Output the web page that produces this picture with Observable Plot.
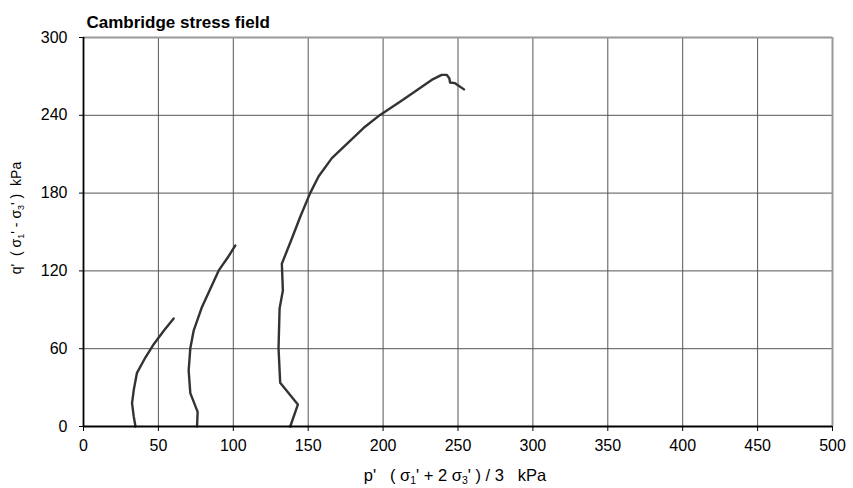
<!DOCTYPE html>
<html><head><meta charset="utf-8">
<script src="https://cdn.jsdelivr.net/npm/d3@7"></script>
<script src="https://cdn.jsdelivr.net/npm/@observablehq/plot@0.6"></script>
<style>
body{margin:0;background:#fff;font-family:"Liberation Sans",Arial,sans-serif;}
</style></head>
<body><div id="chart"></div>
<script>
const title = "Cambridge stress field";
const xTicks = [0,50,100,150,200,250,300,350,400,450,500];
const yTicks = [0,60,120,180,240,300];
const p1 = [34.7,33.5,32.4,33.6,35.7,41.3,46.9,53.6,60.2];
const q1 = [0,8,18,28.5,41.4,53.2,63.5,73.8,83.3];
const p2 = [75.8,76.2,71.3,70.2,71.3,73.6,79.1,84.7,90.2,96.4,101.3];
const q2 = [0,11.3,25.7,43.2,60.3,74.2,92.2,106.3,120.2,130.5,139.5];
const p3 = [138,143.1,131.3,130.2,130.9,133.1,132.4,139.1,144.7,151.3,156.9,165.8,186.9,198,211.3,221.3,232.4,239.1,242.4,244.2,244.7,248,254];
const q3 = [0,16.9,33.7,60.3,91.1,104.9,125.5,145,161.8,180,192.8,207,230.2,240.3,250.5,258.3,267.3,271.2,271.2,268.6,265.3,264.8,260];

const series = [[p1,q1,"a"],[p2,q2,"b"],[p3,q3,"c"]];
const data = series.flatMap(([p,q,s]) => p.map((v,i) => ({p:v, q:q[i], s})));

const W = 853, H = 488, ML = 83, MR = 21, MT = 37, MB = 62;
const plot = Plot.plot({
  width: W, height: H,
  marginLeft: ML, marginRight: MR, marginTop: MT, marginBottom: MB,
  style: {fontFamily: '"Liberation Sans", Arial, sans-serif', fontSize: "16px", color: "#000", background: "#fff"},
  x: {domain: [0,500], ticks: xTicks},
  y: {domain: [0,300], ticks: yTicks},
  marks: [
    Plot.ruleX(xTicks.slice(1,-1), {stroke: "#555", strokeWidth: 1, strokeOpacity: 1}),
    Plot.ruleY(yTicks.slice(1,-1), {stroke: "#555", strokeWidth: 1, strokeOpacity: 1}),
    Plot.ruleY([300], {stroke: "#999", strokeWidth: 2}),
    Plot.ruleX([500], {stroke: "#999", strokeWidth: 2}),
    Plot.line(data, {x: "p", y: "q", z: "s", stroke: "#333", strokeWidth: 2.4, strokeLinejoin: "round", strokeLinecap: "round"}),
    Plot.ruleY([0], {stroke: "#000", strokeWidth: 1.8}),
    Plot.ruleX([0], {stroke: "#000", strokeWidth: 1.8}),
    Plot.axisX({ticks: xTicks, tickSize: 5, tickPadding: 8, label: null, stroke: "#000", fontSize: 16}),
    Plot.axisY({ticks: yTicks, tickSize: 4, tickPadding: 12, label: null, stroke: "#000", fontSize: 16}),
    Plot.text([title], {frameAnchor: "top-left", dx: 3, dy: -10, lineAnchor: "bottom", textAnchor: "start", fontWeight: "bold", fontSize: 17, fill: "#000"})
  ]
});
document.getElementById("chart").appendChild(plot);

const svg = d3.select(plot);

// axis labels with subscripts
const xl = svg.append("text")
  .attr("x", 455).attr("y", 481)
  .attr("text-anchor", "middle")
  .attr("font-size", 16.5).attr("fill", "#000")
  .attr("xml:space", "preserve");
xl.append("tspan").text("p'   ( σ");
xl.append("tspan").attr("font-size", 10.5).attr("dy", 3).text("1");
xl.append("tspan").attr("dy", -3).text("' + 2 σ");
xl.append("tspan").attr("font-size", 10.5).attr("dy", 3).text("3");
xl.append("tspan").attr("dy", -3).text("' ) / 3   kPa");

const yl = svg.append("text")
  .attr("transform", "translate(21,218) rotate(-90)")
  .attr("text-anchor", "middle")
  .attr("font-size", 14).attr("fill", "#000")
  .attr("xml:space", "preserve");
yl.append("tspan").text("q'  ( σ");
yl.append("tspan").attr("font-size", 9).attr("dy", 3).text("1");
yl.append("tspan").attr("dy", -3).text("' - σ");
yl.append("tspan").attr("font-size", 9).attr("dy", 3).text("3");
yl.append("tspan").attr("dy", -3).text("' )  kPa");
</script>
</body></html>
